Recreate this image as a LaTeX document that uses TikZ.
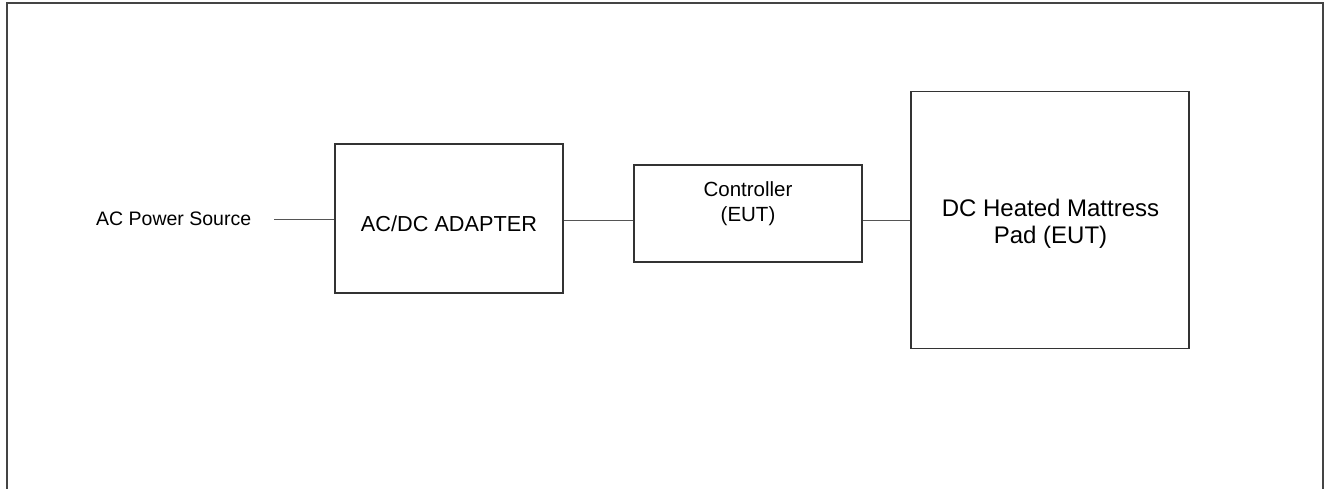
\documentclass[tikz,border=0pt]{standalone}
\usepackage{fontspec}
\setmainfont{Liberation Sans}
\definecolor{framec}{HTML}{444444}
\definecolor{boxc}{HTML}{333333}
\definecolor{linec}{HTML}{555555}
\begin{document}
\begin{tikzpicture}[x=1pt,y=-1pt,
  box/.style={draw=boxc,line width=1.3pt,inner sep=0pt,minimum width=#1},
  box/.default=100,
  txt/.style={inner sep=0pt,align=center,text=black},
  wire/.style={draw=linec,line width=1pt}]
\useasboundingbox (0,0) rectangle (1330,488);
\draw[framec,line width=2pt] (6.5,490) -- (6.5,2.5) -- (1323,2.5) -- (1323,490);
% boxes
\node[box=228,minimum height=149] (adapter) at (449,218.5) {};
\node[box=228,minimum height=97] (ctrl) at (748,213.5) {};
\node[box=278,minimum height=257] (pad) at (1050,220.3) {};
% texts
\node[txt,anchor=base west,font=\fontsize{19.5}{22}\selectfont] (src) at (96,225) {AC Power Source};
\node[txt,anchor=base,font=\fontsize{21.7}{25}\selectfont] (adaptertxt) at (449,231.7) {AC/DC ADAPTER};
\node[txt,anchor=center,font=\fontsize{20.5}{24.5}\selectfont] (ctrltxt) at (748,203.5) {Controller\\(EUT)};
\node[txt,anchor=center,font=\fontsize{24}{27.5}\selectfont] (padtxt) at (1050.5,224) {DC Heated Mattress\\Pad (EUT)};
% wires
\coordinate (srcend) at (274,219.7);
\draw[wire] (srcend) -- (srcend -| adapter.west);
\draw[wire] (adapter.east |- 0,220) -- (ctrl.west |- 0,220);
\draw[wire] (ctrl.east |- 0,220) -- (pad.west |- 0,220);
\end{tikzpicture}
\end{document}
